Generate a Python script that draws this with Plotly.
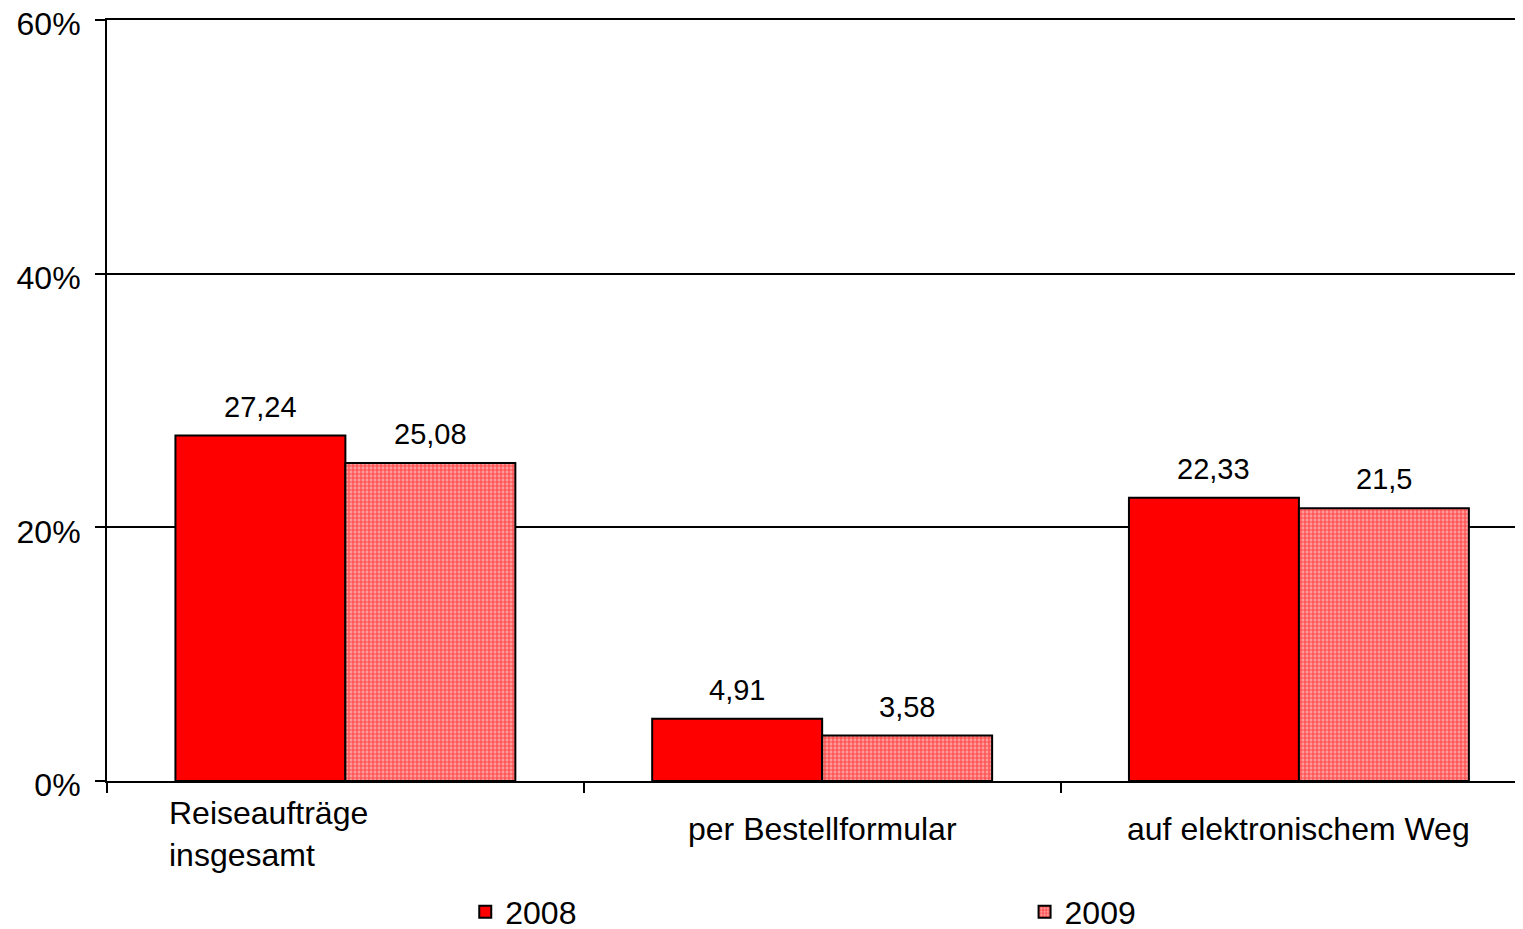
import plotly.graph_objects as go

categories = ["Reiseaufträge<br>insgesamt", "per Bestellformular", "auf elektronischem Weg"]
years = ["2008", "2009"]
values_2008 = [27.24, 4.91, 22.33]
values_2009 = [25.08, 3.58, 21.5]
y_ticks = [0, 20, 40, 60]

font = "Liberation Sans, Arial, sans-serif"
xpos = list(range(len(categories)))
bargap = 0.287
half = (1 - bargap) / 4  # offset of each bar centre from category centre


def de_label(v):
    return str(v).replace(".", ",")


fig = go.Figure()
fig.add_trace(go.Bar(
    x=xpos, y=values_2008, name=years[0], legend="legend",
    marker=dict(color="#ff0000", line=dict(color="black", width=2)),
))
fig.add_trace(go.Bar(
    x=xpos, y=values_2009, name=years[1], legend="legend2",
    marker=dict(color="#ff0000", line=dict(color="black", width=2),
                pattern=dict(shape=".", size=4, solidity=0.7,
                             fgcolor="#ff0000", bgcolor="#ffb4b4", fillmode="overlay")),
))

# value labels above the bars
for i in xpos:
    for v, off in ((values_2008[i], -half), (values_2009[i], half)):
        fig.add_annotation(x=i + off, y=v, xref="x", yref="y", text=de_label(v), showarrow=False,
                           xanchor="center", yanchor="bottom", yshift=11,
                           font=dict(size=29, color="black", family=font))

# category labels (first one is wrapped and left-aligned like the original)
for i, cat in enumerate(categories):
    if i == 0:
        fig.add_annotation(x=i, y=0, xref="x", yref="y", text=cat, showarrow=False,
                           xanchor="left", yanchor="top", align="left", xshift=-178, yshift=-12,
                           font=dict(size=32, color="black", family=font))
    else:
        fig.add_annotation(x=i, y=0, xref="x", yref="y", text=cat, showarrow=False,
                           xanchor="center", yanchor="top", yshift=-28,
                           font=dict(size=32, color="black", family=font))

leg = dict(orientation="h", yanchor="middle", y=-0.172, xanchor="left",
           font=dict(size=32, family=font, color="black"), bgcolor="rgba(0,0,0,0)")

fig.update_layout(
    width=1515, height=950,
    margin=dict(l=99, r=0, t=12, b=177),
    paper_bgcolor="white", plot_bgcolor="white",
    barmode="group", bargap=bargap, bargroupgap=0,
    font=dict(family=font, size=32, color="black"),
    showlegend=True,
    legend=dict(leg, x=0.253),
    legend2=dict(leg, x=0.648),
)
fig.update_xaxes(
    range=[-0.5, 2.47], tickvals=[-0.5, 0.5, 1.5, 2.5], ticktext=["", "", "", ""],
    showline=True, linecolor="black", linewidth=2, mirror=True,
    ticks="outside", ticklen=10, tickwidth=2, tickcolor="black",
    showgrid=False, zeroline=False, automargin=False,
)
fig.update_yaxes(
    range=[0, 60], tickvals=y_ticks, ticktext=[f"{t}%" for t in y_ticks],
    showline=True, linecolor="black", linewidth=2,
    ticks="outside", ticklen=10, tickwidth=2, tickcolor="black",
    showgrid=True, gridcolor="black", gridwidth=2, zeroline=False,
    tickfont=dict(size=32, family=font, color="black"), ticklabeloverflow="allow",
    ticklabelstandoff=8, ticklabelshift=4, automargin=False,
)

fig.write_html("out.html")
